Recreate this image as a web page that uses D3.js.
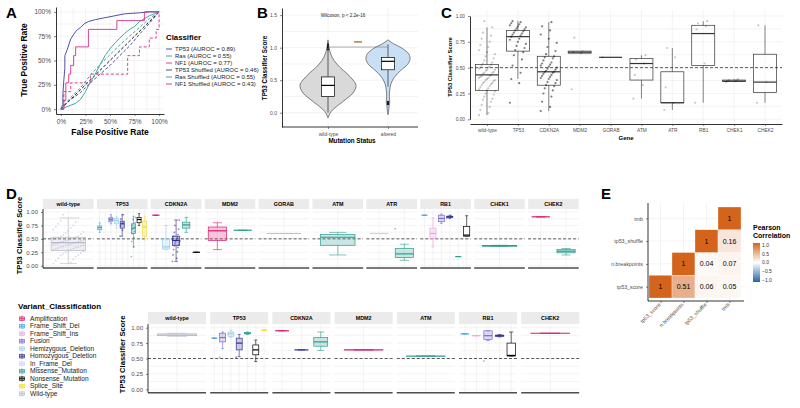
<!DOCTYPE html>
<html>
<head>
<meta charset="utf-8">
<script src="https://cdn.jsdelivr.net/npm/d3@7"></script>
<style>
body { margin: 0; background: white; }
svg { font-family: "Liberation Sans", Arial, Helvetica, sans-serif; }
</style>
</head>
<body>
<div id="container"></div>
<script>
// ---------------- data ----------------
// panel A : ROC curves [fpr, tpr]
const rocTP53 = [[0,0],[0.02,0.05],[0.02,0.15],[0.03,0.3],[0.04,0.42],[0.04,0.55],[0.06,0.6],[0.08,0.66],[0.1,0.72],[0.13,0.77],[0.16,0.81],[0.2,0.84],[0.24,0.88],[0.28,0.9],[0.35,0.92],[0.45,0.94],[0.55,0.96],[0.65,0.98],[0.8,0.99],[0.9,1],[1,1]];
const rocRas = [[0,0],[0.05,0.02],[0.1,0.04],[0.15,0.06],[0.2,0.1],[0.25,0.18],[0.3,0.28],[0.35,0.36],[0.4,0.46],[0.45,0.55],[0.5,0.62],[0.55,0.68],[0.6,0.73],[0.65,0.78],[0.7,0.82],[0.75,0.85],[0.8,0.9],[0.85,0.93],[0.9,0.96],[0.95,0.98],[1,1]];
const rocNF1 = [[0,0],[0.03,0],[0.03,0.09],[0.05,0.09],[0.05,0.27],[0.08,0.27],[0.08,0.36],[0.1,0.36],[0.1,0.45],[0.13,0.45],[0.13,0.55],[0.15,0.55],[0.15,0.64],[0.28,0.64],[0.28,0.82],[0.57,0.82],[0.57,0.91],[0.85,0.91],[0.85,1],[1,1]];
const rocTP53Shuf = [[0,0],[0.05,0.06],[0.1,0.1],[0.2,0.17],[0.3,0.27],[0.4,0.36],[0.5,0.45],[0.6,0.55],[0.7,0.65],[0.8,0.77],[0.9,0.88],[1,1]];
const rocRasShuf = [[0,0],[0.1,0.12],[0.2,0.22],[0.3,0.35],[0.4,0.46],[0.5,0.56],[0.6,0.66],[0.7,0.75],[0.8,0.84],[0.9,0.93],[1,1]];
const rocNF1Shuf = [[0,0],[0.03,0],[0.03,0.18],[0.1,0.18],[0.1,0.27],[0.3,0.27],[0.3,0.36],[0.68,0.36],[0.68,0.55],[0.8,0.55],[0.8,0.64],[0.9,0.64],[0.9,0.73],[0.97,0.73],[0.97,0.82],[1,0.82],[1,1]];
const rocLabels = ["TP53 (AUROC = 0.89)","Ras (AUROC = 0.55)","NF1 (AUROC = 0.77)","TP53 Shuffled (AUROC = 0.46)","Ras Shuffled (AUROC = 0.55)","NF1 Shuffled (AUROC = 0.43)"];

// panel B : violins [score, relative width], box stats [lo,q1,med,q3,hi]
const statusCats = ["wild-type","altered"];
const violinWT = [[1.12,0],[1.0,0.04],[0.9,0.1],[0.8,0.22],[0.7,0.42],[0.6,0.68],[0.5,0.9],[0.42,1],[0.32,0.92],[0.22,0.68],[0.12,0.38],[0.02,0.12],[-0.08,0]];
const violinAlt = [[1.12,0],[1.06,0.25],[1.0,0.6],[0.9,0.95],[0.82,1],[0.74,0.88],[0.65,0.58],[0.55,0.3],[0.45,0.14],[0.35,0.08],[0.25,0.06],[0.16,0.08],[0.1,0.05],[0.0,0.02],[-0.03,0]];
const boxB = [[0.0,0.25,0.42,0.55,0.96],[0.4,0.66,0.79,0.85,1.05]];
const outB = [[0.97,1.0,1.02,1.05],[0.13,0.15,0.17]];

// panel C : genes, box stats, points
const genes = ["wild-type","TP53","CDKN2A","MDM2","GORAB","ATM","ATR","RB1","CHEK1","CHEK2"];
const boxC = [[0.04,0.28,0.43,0.53,0.89],[0.39,0.66,0.80,0.86,0.95],[0.08,0.33,0.46,0.61,0.94],[0.64,0.64,0.65,0.66,0.66],[0.6,0.6,0.6,0.6,0.6],
  [0.20,0.38,0.54,0.59,0.62],[0.09,0.16,0.16,0.46,0.69],[0.16,0.52,0.83,0.91,0.95],[0.36,0.365,0.37,0.38,0.39],[0.16,0.26,0.36,0.63,0.91]];
const wtScores = [0.04,0.06,0.09,0.12,0.14,0.17,0.19,0.2,0.22,0.24,0.25,0.27,0.28,0.29,0.3,0.31,0.32,0.33,0.34,0.35,0.35,0.36,0.37,0.38,0.38,0.39,0.4,0.4,0.41,0.42,0.42,0.43,0.44,0.45,0.45,0.46,0.47,0.48,0.48,0.49,0.5,0.5,0.51,0.52,0.53,0.54,0.55,0.57,0.59,0.61,0.63,0.65,0.67,0.7,0.72,0.75,0.78,0.81,0.84,0.89,0.95];
const tp53Scores = [0.16,0.35,0.39,0.45,0.52,0.58,0.62,0.65,0.67,0.69,0.71,0.73,0.75,0.77,0.78,0.8,0.81,0.82,0.83,0.84,0.85,0.86,0.87,0.88,0.89,0.9,0.91,0.92,0.93,0.94,0.95];
const cdkn2aScores = [0.08,0.12,0.17,0.22,0.25,0.28,0.3,0.32,0.33,0.35,0.36,0.38,0.39,0.4,0.41,0.42,0.43,0.44,0.45,0.46,0.46,0.47,0.48,0.49,0.5,0.51,0.52,0.53,0.54,0.55,0.57,0.59,0.6,0.61,0.63,0.66,0.7,0.74,0.78,0.82,0.86,0.9,0.94];
const pointsC = [wtScores, tp53Scores, cdkn2aScores, [0.29,0.64,0.65,0.66,0.79], [0.6], [0.2,0.33,0.43,0.54,0.58,0.62], [0.09,0.16,0.31,0.6,0.69], [0.16,0.54,0.87,0.9,0.93,0.95], [0.36,0.37,0.37,0.38,0.38,0.39], [0.16,0.36,0.91]];

// panel D : variant classes, facet slots, boxes [gene, class, lo,q1,med,q3,hi]
const variantClasses = ["Amplification","Frame_Shift_Del","Frame_Shift_Ins","Fusion","Hemizygous_Deletion","Homozygous_Deletion","In_Frame_Del","Missense_Mutation","Nonsense_Mutation","Splice_Site","Wild-type"];
const dTopSlots = [["Wild-type"],
  ["Frame_Shift_Del","Frame_Shift_Ins","Fusion","Hemizygous_Deletion","Homozygous_Deletion","In_Frame_Del","Missense_Mutation","Nonsense_Mutation","Splice_Site"],
  ["Amplification","Hemizygous_Deletion","Homozygous_Deletion","Missense_Mutation","Nonsense_Mutation"],
  ["Amplification","Missense_Mutation"],["Frame_Shift_Ins"],["Missense_Mutation"],["In_Frame_Del","Missense_Mutation"],
  ["Frame_Shift_Del","Frame_Shift_Ins","Fusion","Homozygous_Deletion","Missense_Mutation","Nonsense_Mutation"],
  ["Missense_Mutation"],["Amplification","Missense_Mutation"]];
const dTopBoxes = [
  ["wild-type","Wild-type",0.04,0.28,0.43,0.53,0.89],
  ["TP53","Frame_Shift_Del",0.62,0.67,0.71,0.74,0.8],
  ["TP53","Fusion",0.78,0.83,0.86,0.89,0.95],
  ["TP53","Hemizygous_Deletion",0.7,0.78,0.84,0.88,0.92],
  ["TP53","Homozygous_Deletion",0.55,0.7,0.78,0.83,0.95],
  ["TP53","Missense_Mutation",0.35,0.6,0.7,0.78,0.92],
  ["TP53","Nonsense_Mutation",0.75,0.8,0.86,0.9,0.97],
  ["TP53","Splice_Site",0.48,0.55,0.72,0.83,0.92],
  ["CDKN2A","Amplification",0.94,0.94,0.94,0.94,0.94],
  ["CDKN2A","Hemizygous_Deletion",0.3,0.31,0.35,0.5,0.75],
  ["CDKN2A","Homozygous_Deletion",0.08,0.38,0.47,0.55,0.85],
  ["CDKN2A","Missense_Mutation",0.62,0.7,0.76,0.81,0.9],
  ["CDKN2A","Nonsense_Mutation",0.25,0.25,0.25,0.25,0.25],
  ["MDM2","Amplification",0.3,0.47,0.65,0.72,0.8],
  ["MDM2","Missense_Mutation",0.66,0.66,0.66,0.66,0.66],
  ["GORAB","Frame_Shift_Ins",0.6,0.6,0.6,0.6,0.6],
  ["ATM","Missense_Mutation",0.2,0.38,0.53,0.58,0.62],
  ["ATR","In_Frame_Del",0.6,0.6,0.6,0.6,0.6],
  ["ATR","Missense_Mutation",0.1,0.15,0.22,0.32,0.4],
  ["RB1","Frame_Shift_Del",0.94,0.94,0.94,0.94,0.94],
  ["RB1","Frame_Shift_Ins",0.35,0.51,0.6,0.7,0.89],
  ["RB1","Fusion",0.79,0.82,0.88,0.94,0.96],
  ["RB1","Homozygous_Deletion",0.88,0.9,0.91,0.92,0.94],
  ["RB1","Missense_Mutation",0.17,0.17,0.17,0.17,0.17],
  ["RB1","Nonsense_Mutation",0.55,0.55,0.57,0.73,0.93],
  ["CHEK1","Missense_Mutation",0.36,0.365,0.37,0.375,0.38],
  ["CHEK2","Amplification",0.91,0.91,0.91,0.91,0.91],
  ["CHEK2","Missense_Mutation",0.2,0.24,0.27,0.3,0.32]];
const dTopPoints = [
  ["wild-type","Wild-type",wtScores],
  ["TP53","Missense_Mutation",[0.17,0.35,0.45,0.52,0.6,0.64,0.68,0.72,0.75,0.8,0.86,0.9]],
  ["TP53","Homozygous_Deletion",[0.55,0.66,0.74,0.8,0.87,0.95]],
  ["TP53","Fusion",[0.82,0.85,0.88,0.9]],
  ["CDKN2A","Homozygous_Deletion",[0.08,0.14,0.2,0.26,0.3,0.34,0.37,0.39,0.41,0.43,0.45,0.46,0.47,0.48,0.5,0.51,0.53,0.55,0.58,0.62,0.68,0.75,0.85]],
  ["ATR","Missense_Mutation",[0.69]],
  ["RB1","Homozygous_Deletion",[0.89,0.91,0.92,0.93]]];

const dBotGenes = ["wild-type","TP53","CDKN2A","MDM2","ATM","RB1","CHEK2"];
const dBotSlots = [["Wild-type"],
  ["Frame_Shift_Del","Fusion","Hemizygous_Deletion","Homozygous_Deletion","Missense_Mutation","Nonsense_Mutation","Splice_Site"],
  ["Amplification","Homozygous_Deletion","Missense_Mutation"],["Amplification"],["Missense_Mutation"],
  ["Frame_Shift_Del","Frame_Shift_Ins","Fusion","Homozygous_Deletion","Nonsense_Mutation"],["Amplification"]];
const dBotBoxes = [
  ["wild-type","Wild-type",0.86,0.87,0.88,0.9,0.91],
  ["TP53","Frame_Shift_Del",0.83,0.83,0.83,0.83,0.83],
  ["TP53","Fusion",0.66,0.77,0.84,0.91,0.93],
  ["TP53","Hemizygous_Deletion",0.84,0.86,0.9,0.93,0.96],
  ["TP53","Homozygous_Deletion",0.53,0.64,0.75,0.83,0.89],
  ["TP53","Missense_Mutation",0.89,0.9,0.91,0.92,0.93],
  ["TP53","Nonsense_Mutation",0.45,0.56,0.64,0.72,0.8],
  ["TP53","Splice_Site",0.96,0.96,0.96,0.96,0.96],
  ["CDKN2A","Amplification",0.95,0.95,0.95,0.95,0.95],
  ["CDKN2A","Homozygous_Deletion",0.64,0.64,0.64,0.64,0.64],
  ["CDKN2A","Missense_Mutation",0.63,0.7,0.77,0.84,0.93],
  ["MDM2","Amplification",0.64,0.64,0.64,0.64,0.64],
  ["ATM","Missense_Mutation",0.54,0.54,0.54,0.54,0.54],
  ["RB1","Frame_Shift_Del",0.9,0.9,0.9,0.9,0.9],
  ["RB1","Frame_Shift_Ins",0.87,0.87,0.87,0.87,0.87],
  ["RB1","Fusion",0.79,0.81,0.87,0.95,0.95],
  ["RB1","Homozygous_Deletion",0.85,0.86,0.87,0.88,0.89],
  ["RB1","Nonsense_Mutation",0.54,0.54,0.55,0.75,0.93],
  ["CHEK2","Amplification",0.91,0.91,0.91,0.91,0.91]];
const dBotPoints = [["RB1","Fusion",[0.46]],["TP53","Fusion",[0.52]],["TP53","Homozygous_Deletion",[0.52]]];

// panel E : correlation matrix (lower triangle, [col, row, r])
const corrVars = ["tp53_score","n.breakpoints","tp53_shuffle","tmb"];
const corrCells = [[0,0,1],[1,0,0.51],[2,0,0.06],[3,0,0.05],[1,1,1],[2,1,0.04],[3,1,0.07],[2,2,1],[3,2,0.16],[3,3,1]];
const corrTicks = [1.0,0.5,0.0,-0.5,-1.0];

// ---------------- styles ----------------
const rocColors = ["#3B3B9C","#2E9E93","#D0308B","#3B3B9C","#2E9E93","#D0308B"];
const classColor = {"Amplification":"#D81B72","Frame_Shift_Del":"#3FA6DA","Frame_Shift_Ins":"#EFA3E3","Fusion":"#7A6BD6",
  "Hemizygous_Deletion":"#9DD0E8","Homozygous_Deletion":"#2E3192","In_Frame_Del":"#CFCFF0","Missense_Mutation":"#2A9D8F",
  "Nonsense_Mutation":"#000000","Splice_Site":"#F0DC2E","Wild-type":"#B9B9CC"};
const GRID = "#EBEBEB";

let svg = d3.select("#container").append("svg")
    .attr("width", 800)
    .attr("height", 408)
    .style("background-color", "white");

function grid(g, xs, ys, x0, x1, y0, y1) {
    g.selectAll(null).data(xs).enter().append("line")
        .attr("x1", d => d).attr("x2", d => d).attr("y1", y0).attr("y2", y1)
        .attr("stroke", GRID).attr("stroke-width", 0.6);
    g.selectAll(null).data(ys).enter().append("line")
        .attr("y1", d => d).attr("y2", d => d).attr("x1", x0).attr("x2", x1)
        .attr("stroke", GRID).attr("stroke-width", 0.6);
}

function styleAxis(sel, fs) {
    sel.attr("font-family", null).attr("font-size", fs);
    sel.selectAll("text").attr("fill", "#4D4D4D");
    sel.selectAll(".tick line").attr("stroke", "#333").attr("stroke-width", 0.6);
    sel.select(".domain").attr("stroke", "#000").attr("stroke-width", 0.8);
}

function letter(t, x, y) {
    svg.append("text").attr("x", x).attr("y", y).text(t)
        .attr("font-size", 15).attr("font-weight", "bold");
}

function label(g, t, x, y, fs, rot, bold) {
    let s = g.append("text").text(t).attr("font-size", fs).attr("text-anchor", "middle")
        .attr("font-weight", bold === false ? "normal" : "bold");
    if (rot) s.attr("transform", "translate(" + x + "," + y + ") rotate(-90)");
    else s.attr("x", x).attr("y", y);
    return s;
}

// fill: "alpha" (tinted), "white", or "none"
function drawBox(g, cx, bw, y, s, col, caps, fill) {
    g.append("line").attr("x1", cx).attr("x2", cx).attr("y1", y(s[4])).attr("y2", y(s[3]))
        .attr("stroke", col).attr("stroke-width", 0.6);
    g.append("line").attr("x1", cx).attr("x2", cx).attr("y1", y(s[1])).attr("y2", y(s[0]))
        .attr("stroke", col).attr("stroke-width", 0.6);
    if (caps) {
        [s[0], s[4]].forEach(v => g.append("line").attr("x1", cx - bw * 0.25).attr("x2", cx + bw * 0.25)
            .attr("y1", y(v)).attr("y2", y(v)).attr("stroke", col).attr("stroke-width", 0.6));
    }
    let r = g.append("rect").attr("x", cx - bw / 2).attr("y", y(s[3])).attr("width", bw)
        .attr("height", Math.max(0, y(s[1]) - y(s[3])))
        .attr("stroke", col).attr("stroke-width", 0.7);
    if (fill === "white") r.attr("fill", "white");
    else if (fill === "none") r.attr("fill", "none");
    else r.attr("fill", col === "#000000" ? "white" : col).attr("fill-opacity", col === "#000000" ? 1 : 0.25);
    g.append("line").attr("x1", cx - bw / 2).attr("x2", cx + bw / 2).attr("y1", y(s[2])).attr("y2", y(s[2]))
        .attr("stroke", col).attr("stroke-width", 1.2);
}

// jitter offset in [-0.5, 0.5] from index (fixed pattern)
function jit(i) { return ((i * 7) % 13) / 12 - 0.5; }

// ================= Panel A =================
letter("A", 6, 18);
const ax = d3.scaleLinear().domain([-0.05, 1.05]).range([56, 164]);
const ay = d3.scaleLinear().domain([-0.05, 1.05]).range([114, 7]);
const pctT = [0, 0.25, 0.5, 0.75, 1];
const minT = [0, 0.125, 0.25, 0.375, 0.5, 0.625, 0.75, 0.875, 1];
let gA = svg.append("g");
grid(gA, minT.map(ax), minT.map(ay), 56, 164, 7, 114);
gA.append("line").attr("x1", ax(0)).attr("y1", ay(0)).attr("x2", ax(1)).attr("y2", ay(1))
    .attr("stroke", "#000").attr("stroke-width", 0.9).attr("stroke-dasharray", "3,2");
const rocLine = d3.line().x(d => ax(d[0])).y(d => ay(d[1]));
[rocTP53Shuf, rocRasShuf, rocNF1Shuf, rocTP53, rocRas, rocNF1].forEach((c, k) => {
    let idx = [3, 4, 5, 0, 1, 2][k];
    gA.append("path").attr("d", rocLine(c)).attr("fill", "none")
        .attr("stroke", rocColors[idx]).attr("stroke-width", 0.9)
        .attr("stroke-dasharray", idx > 2 ? "3,2" : null);
});
gA.append("g").attr("transform", "translate(56,0)")
    .call(d3.axisLeft(ay).tickValues(pctT).tickFormat(d3.format(".0%")).tickSize(2).tickSizeOuter(0))
    .call(styleAxis, 6.5);
gA.append("g").attr("transform", "translate(0,114)")
    .call(d3.axisBottom(ax).tickValues(pctT).tickFormat(d3.format(".0%")).tickSize(2).tickSizeOuter(0))
    .call(styleAxis, 6.5);
label(gA, "True Positive Rate", 27, 60, 8.5, true);
label(gA, "False Positive Rate", 110, 135, 8.5, false);
gA.append("text").attr("x", 166).attr("y", 40).text("Classifier").attr("font-size", 7.8).attr("font-weight", "bold");
rocLabels.forEach((t, i) => {
    let y = 49 + i * 7;
    gA.append("line").attr("x1", 166).attr("x2", 172).attr("y1", y).attr("y2", y)
        .attr("stroke", rocColors[i]).attr("stroke-width", 0.9);
    gA.append("text").attr("x", 175).attr("y", y + 2).text(t).attr("font-size", 6).attr("fill", "#1A1A1A");
});

// ================= Panel B =================
letter("B", 257, 18);
const by = d3.scaleLinear().domain([-0.22, 1.61]).range([127, 8]);
const bx = d3.scalePoint().domain(statusCats).range([328, 388]);
const bRight = 418;
let gB = svg.append("g");
grid(gB, bx.domain().map(bx), [0, 0.25, 0.5, 0.75, 1, 1.25, 1.5].map(by), 282, bRight, 8, 127);
const halfW = [28, 22];
[violinWT, violinAlt].forEach((v, i) => {
    const cx = bx(statusCats[i]);
    const area = d3.area().curve(d3.curveCatmullRom)
        .y(d => by(d[0])).x0(d => cx - d[1] * halfW[i]).x1(d => cx + d[1] * halfW[i]);
    gB.append("path").attr("d", area(v)).attr("fill", i ? "#C9E0F4" : "#D9D9D9")
        .attr("stroke", "#333").attr("stroke-width", 0.6);
    drawBox(gB, cx, 13, by, boxB[i], "#000000", false, "white");
    outB[i].forEach(o => gB.append("circle").attr("cx", cx).attr("cy", by(o)).attr("r", 1).attr("fill", "#000"));
});
gB.append("line").attr("x1", bx("wild-type")).attr("x2", bx("altered")).attr("y1", by(1.01)).attr("y2", by(1.01))
    .attr("stroke", "#777").attr("stroke-width", 0.6);
gB.append("text").attr("x", (bx("wild-type") + bx("altered")) / 2).attr("y", by(1.04)).text("****")
    .attr("font-size", 5).attr("text-anchor", "middle");
gB.append("text").attr("x", 343).attr("y", 17).text("Wilcoxon, p < 2.2e-16")
    .attr("font-size", 4.6).attr("text-anchor", "middle").attr("fill", "#222");
gB.append("g").attr("transform", "translate(282,0)")
    .call(d3.axisLeft(by).tickValues([0, 0.5, 1, 1.5]).tickFormat(d3.format(".1f")).tickSize(2).tickSizeOuter(0))
    .call(styleAxis, 5);
let gBx = gB.append("g").attr("transform", "translate(0,127)")
    .call(d3.axisBottom(bx).tickSize(2).tickSizeOuter(0))
    .call(styleAxis, 5);
gBx.select(".domain").attr("d", "M282,0H" + bRight);
label(gB, "TP53 Classifier Score", 267, 68, 6.3, true);
label(gB, "Mutation Status", 352, 143, 6.3, false);

// ================= Panel C =================
letter("C", 441, 18);
const cy = d3.scaleLinear().domain([0, 1]).range([119.3, 16]);
const cx = d3.scalePoint().domain(genes).range([470, 782]).padding(0.55);
let gC = svg.append("g");
grid(gC, genes.map(cx), [0, 0.125, 0.25, 0.375, 0.5, 0.625, 0.75, 0.875, 1].map(cy), 470, 782, 10, 124);
genes.forEach((g, i) => {
    drawBox(gC, cx(g), 23, cy, boxC[i], "#333", false, "none");
    pointsC[i].forEach((v, j) => gC.append("circle")
        .attr("cx", cx(g) + jit(j) * 16).attr("cy", cy(v)).attr("r", 1.1)
        .attr("fill", "#000").attr("fill-opacity", i === 1 || i === 2 ? 0.5 : 0.22));
});
gC.append("line").attr("x1", 470).attr("x2", 782).attr("y1", cy(0.5)).attr("y2", cy(0.5))
    .attr("stroke", "#333").attr("stroke-width", 0.8).attr("stroke-dasharray", "3,2");
gC.append("g").attr("transform", "translate(470,0)")
    .call(d3.axisLeft(cy).tickValues([0, 0.25, 0.5, 0.75, 1]).tickFormat(d3.format(".2f")).tickSize(2).tickSizeOuter(0))
    .call(styleAxis, 4.8);
gC.append("g").attr("transform", "translate(0,124)")
    .call(d3.axisBottom(cx).tickSize(2).tickSizeOuter(0))
    .call(styleAxis, 4.8);
label(gC, "TP53 Classifier Score", 452, 67, 5.8, true);
label(gC, "Gene", 626, 140, 6, false);

// ================= Panel D =================
letter("D", 6, 199);

function facetRow(cfg) {
    const y = d3.scaleLinear().domain([0, 1]).range([cfg.v0, cfg.v1]);
    cfg.genes.forEach((gene, i) => {
        const fx = cfg.x0 + i * (cfg.fw + cfg.gap);
        const g = svg.append("g");
        g.append("rect").attr("x", fx).attr("y", cfg.stripTop).attr("width", cfg.fw).attr("height", cfg.stripH)
            .attr("fill", "#EBEBEB");
        g.append("text").attr("x", fx + cfg.fw / 2).attr("y", cfg.stripTop + cfg.stripH / 2 + 2)
            .text(gene).attr("font-size", 5.4).attr("font-weight", "bold").attr("text-anchor", "middle");
        const slots = cfg.slots[i];
        const sx = d3.scalePoint().domain(slots).range([fx, fx + cfg.fw]).padding(0.5);
        const bw = slots.length === 1 ? cfg.fw * 0.68 : sx.step() * 0.72;
        grid(g, slots.map(sx), [0, 0.125, 0.25, 0.375, 0.5, 0.625, 0.75, 0.875, 1].map(y),
            fx, fx + cfg.fw, cfg.stripTop + cfg.stripH, cfg.axisY);
        cfg.points.filter(p => p[0] === gene).forEach(p => {
            p[2].forEach((v, j) => g.append("circle")
                .attr("cx", sx(p[1]) + jit(j) * Math.min(bw, 30)).attr("cy", y(v)).attr("r", 0.9)
                .attr("fill", classColor[p[1]]).attr("fill-opacity", 0.55));
        });
        g.append("line").attr("x1", fx).attr("x2", fx + cfg.fw).attr("y1", y(0.5)).attr("y2", y(0.5))
            .attr("stroke", "#333").attr("stroke-width", 0.8).attr("stroke-dasharray", "3,2");
        cfg.boxes.filter(b => b[0] === gene).forEach(b => {
            drawBox(g, sx(b[1]), bw, y, b.slice(2), classColor[b[1]], true, "alpha");
        });
        g.append("line").attr("x1", fx).attr("x2", fx + cfg.fw).attr("y1", cfg.axisY).attr("y2", cfg.axisY)
            .attr("stroke", "#4D4D4D").attr("stroke-width", 1.4);
    });
    let ga = svg.append("g").attr("transform", "translate(" + cfg.x0 + ",0)")
        .call(d3.axisLeft(y).tickValues([0, 0.25, 0.5, 0.75, 1]).tickFormat(d3.format(".2f")).tickSize(2).tickSizeOuter(0))
        .call(styleAxis, 6);
    ga.select(".domain").attr("d", "M0," + (cfg.stripTop + cfg.stripH) + "V" + cfg.axisY);
    label(svg, "TP53 Classifier Score", cfg.titleX, (cfg.stripTop + cfg.axisY) / 2 + 2, 7.6, true);
}

facetRow({genes: genes, slots: dTopSlots, boxes: dTopBoxes, points: dTopPoints,
    x0: 43, fw: 50.6, gap: 3.3, stripTop: 199, stripH: 10, axisY: 268, v0: 265.7, v1: 212, titleX: 22});
facetRow({genes: dBotGenes, slots: dBotSlots, boxes: dBotBoxes, points: dBotPoints,
    x0: 148, fw: 58, gap: 4.2, stripTop: 312, stripH: 12, axisY: 392.7, v0: 389.3, v1: 327.7, titleX: 125});

// legend for variant classes
let gL = svg.append("g");
gL.append("text").attr("x", 18).attr("y", 309).text("Variant_Classification").attr("font-size", 8).attr("font-weight", "bold");
variantClasses.forEach((c, i) => {
    let y = 318.7 + i * 7.5;
    let col = classColor[c];
    gL.append("line").attr("x1", 22).attr("x2", 22).attr("y1", y - 3).attr("y2", y + 3).attr("stroke", col).attr("stroke-width", 0.6);
    gL.append("rect").attr("x", 19.3).attr("y", y - 1.8).attr("width", 5.4).attr("height", 3.6)
        .attr("fill", col).attr("fill-opacity", 0.3).attr("stroke", col).attr("stroke-width", 0.6);
    gL.append("line").attr("x1", 19.3).attr("x2", 24.7).attr("y1", y).attr("y2", y).attr("stroke", col).attr("stroke-width", 0.8);
    gL.append("text").attr("x", 30).attr("y", y + 2.2).text(c).attr("font-size", 6.6).attr("fill", "#1A1A1A");
});

// ================= Panel E =================
letter("E", 601, 199);
const ex = d3.scaleBand().domain(corrVars).range([649, 741]);
const ey = d3.scaleBand().domain(corrVars).range([298, 207]);
const corrColor = d3.scaleLinear().domain([-1, 0, 1]).range(["#2166AC", "#FFFFFF", "#D4631B"]);
let gE = svg.append("g");
grid(gE, corrVars.map(v => ex(v) + ex.bandwidth() / 2), corrVars.map(v => ey(v) + ey.bandwidth() / 2), 648, 744, 203, 301);
corrCells.forEach(c => {
    let x = ex(corrVars[c[0]]), y = ey(corrVars[c[1]]);
    gE.append("rect").attr("x", x).attr("y", y).attr("width", ex.bandwidth()).attr("height", ey.bandwidth())
        .attr("fill", corrColor(c[2])).attr("stroke", "white").attr("stroke-width", 0.3);
    gE.append("text").attr("x", x + ex.bandwidth() / 2).attr("y", y + ey.bandwidth() / 2 + 2.5)
        .text(c[2] === 1 ? "1" : d3.format(".2f")(c[2])).attr("font-size", 7).attr("text-anchor", "middle");
});
const eyAxis = d3.scalePoint().domain(corrVars).range([ey(corrVars[0]) + ey.bandwidth() / 2, ey(corrVars[3]) + ey.bandwidth() / 2]);
let gEy = gE.append("g").attr("transform", "translate(648,0)")
    .call(d3.axisLeft(eyAxis).tickSize(2).tickSizeOuter(0)).call(styleAxis, 5.3);
gEy.select(".domain").attr("d", "M0,203V301");
const exAxis = d3.scalePoint().domain(corrVars).range([ex(corrVars[0]) + ex.bandwidth() / 2, ex(corrVars[3]) + ex.bandwidth() / 2]);
let gEx = gE.append("g").attr("transform", "translate(0,301)")
    .call(d3.axisBottom(exAxis).tickSize(2).tickSizeOuter(0)).call(styleAxis, 5.3);
gEx.select(".domain").attr("d", "M648,0H744");
gEx.selectAll(".tick text").attr("text-anchor", "end").attr("dy", null).attr("y", 4)
    .attr("transform", "rotate(-45,0,4)");
// colour legend
gE.append("text").attr("x", 753).attr("y", 230).text("Pearson").attr("font-size", 7).attr("font-weight", "bold");
gE.append("text").attr("x", 753).attr("y", 238).text("Correlation").attr("font-size", 7).attr("font-weight", "bold");
let grad = svg.append("defs").append("linearGradient").attr("id", "corrgrad")
    .attr("x1", 0).attr("y1", 1).attr("x2", 0).attr("y2", 0);
[-1, 0, 1].forEach(v => grad.append("stop").attr("offset", (v + 1) / 2).attr("stop-color", corrColor(v)));
const ly = d3.scaleLinear().domain([-1, 1]).range([280, 245]);
gE.append("rect").attr("x", 753).attr("y", 243).attr("width", 7).attr("height", 39).attr("fill", "url(#corrgrad)");
corrTicks.forEach(t => gE.append("text").attr("x", 762).attr("y", ly(t) + 1.8)
    .text(t < 0 ? "\u2212" + d3.format(".1f")(-t) : d3.format(".1f")(t)).attr("font-size", 5).attr("fill", "#333"));
</script>
</body>
</html>
